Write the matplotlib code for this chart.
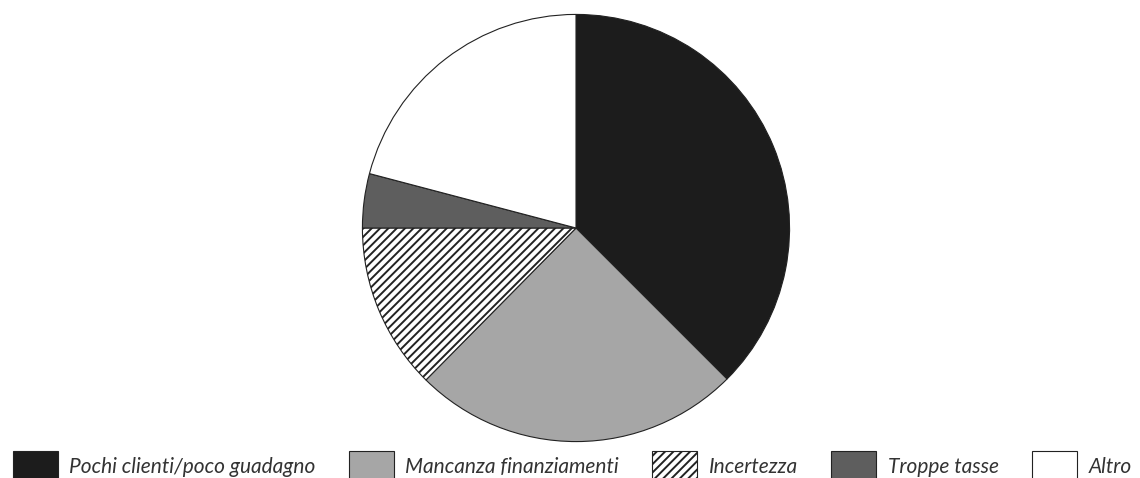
import matplotlib
matplotlib.use('Agg')
import matplotlib.pyplot as plt

labels = ['Pochi clienti/poco guadagno', 'Mancanza finanziamenti', 'Incertezza',
          'Troppe tasse', 'Altro']
shares = [37.5, 24.9, 12.6, 4.1, 20.9]
colors = ['#1c1c1c', '#a6a6a6', '#ffffff', '#5e5e5e', '#ffffff']
hatches = [None, None, '////', None, None]

plt.rcParams['font.family'] = ['Lato', 'DejaVu Sans']
plt.rcParams['hatch.linewidth'] = 1.4
plt.rcParams['hatch.color'] = '#111111'

fig = plt.figure(figsize=(11.4, 4.78), dpi=100)
r, cx, cy = 214, 576, 228
ax = fig.add_axes([(cx - r) / 1140, (478 - cy - r) / 478, 2 * r / 1140, 2 * r / 478])

wedges, _ = ax.pie(shares, colors=colors, startangle=90, counterclock=False,
                   radius=1, wedgeprops=dict(edgecolor='#222222', linewidth=0.8))
for w, h in zip(wedges, hatches):
    if h:
        w.set_hatch(h)
ax.set_xlim(-1.002, 1.002)
ax.set_ylim(-1.002, 1.002)
ax.set_aspect('equal')
ax.axis('off')

# legend row sits at the bottom edge, boxes partly cut off
leg = fig.legend(wedges, labels, loc='lower center', bbox_to_anchor=(0.502, -0.029), ncol=5,
                 frameon=False, borderpad=0, handlelength=2.16, handleheight=1.84,
                 handletextpad=0.55, columnspacing=1.6,
                 prop=dict(family='Lato', style='italic', weight='normal', size=15))
for t in leg.get_texts():
    t.set_color('#333333')

fig.savefig('out.png', dpi=100)
